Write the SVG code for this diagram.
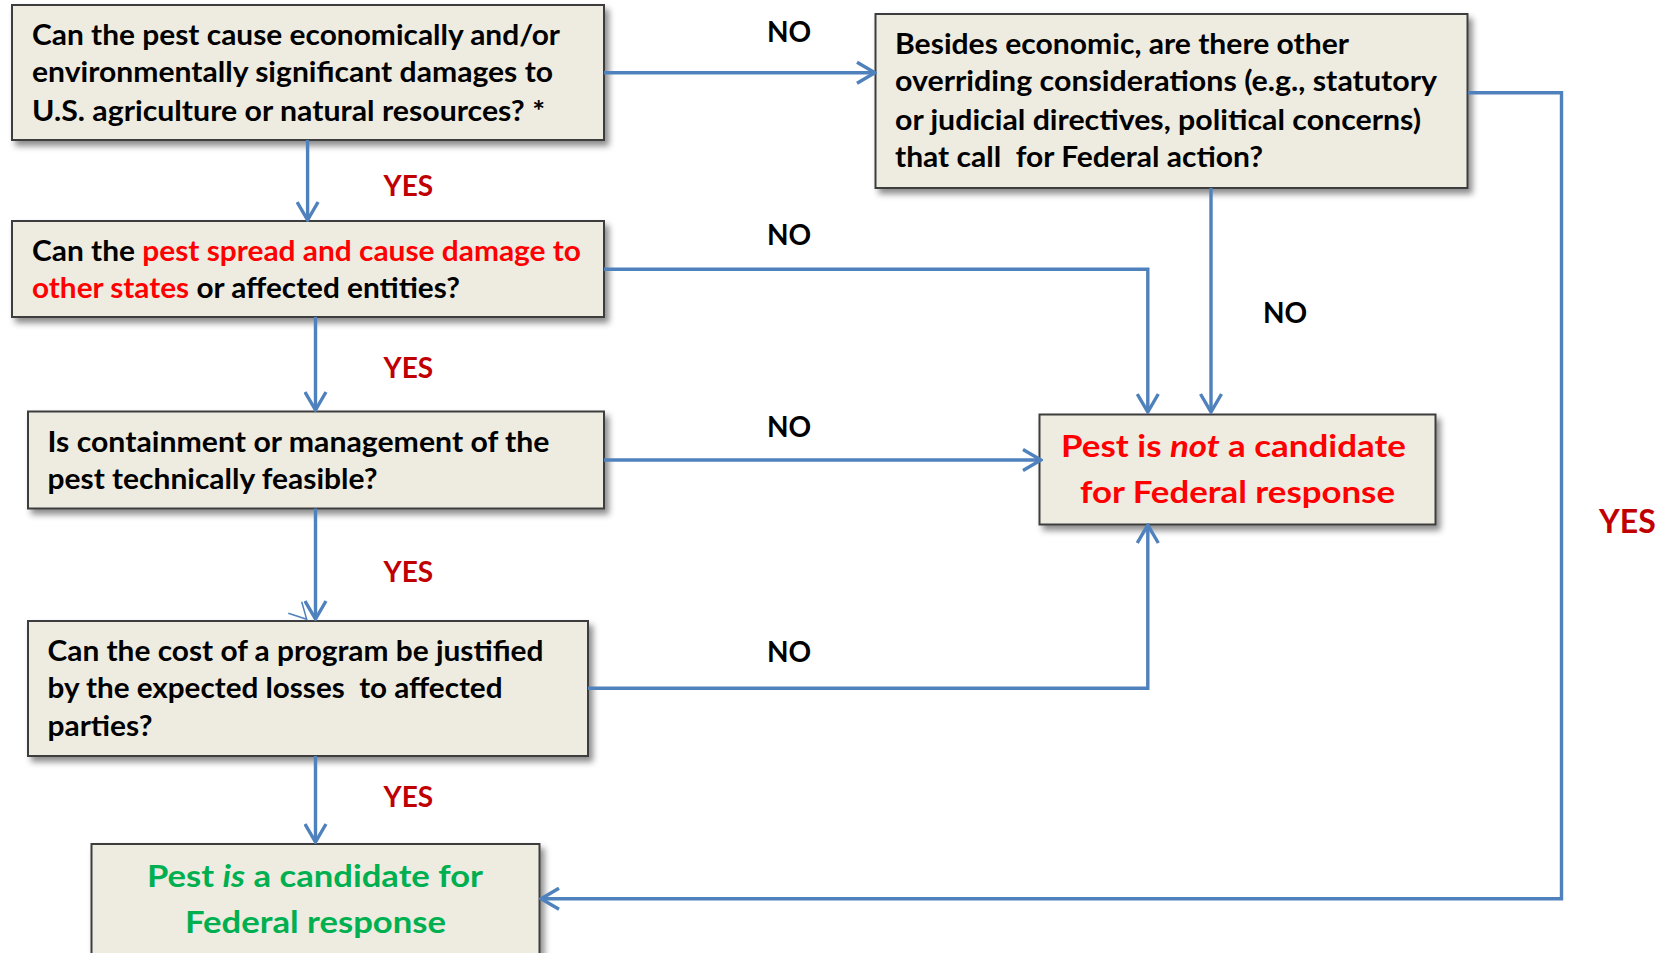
<svg xmlns="http://www.w3.org/2000/svg" width="1667" height="953" viewBox="0 0 1667 953">
<style>
  .box { fill: #EEECE1; stroke: #3c3c3c; stroke-width: 2; filter: url(#sh); }
  .t { font-family: Lato, "Liberation Sans", sans-serif; font-weight: bold; font-size: 28px; fill: #000; }
  .big { font-size: 31px; }
  .red { fill: #FF0000; }
  .green { fill: #00B050; }
  .yes { font-family: Lato, "Liberation Sans", sans-serif; font-weight: bold; font-size: 28px; fill: #C00000; }
  .no { font-family: Lato, "Liberation Sans", sans-serif; font-weight: bold; font-size: 28px; fill: #000; }
  .c { fill: none; stroke: #4F81BD; stroke-width: 3.4; }
  .i { font-style: italic; }
</style>
<defs>
  <filter id="sh" x="-10%" y="-10%" width="130%" height="140%">
    <feDropShadow dx="4" dy="5" stdDeviation="3" flood-color="#000" flood-opacity="0.45"/>
  </filter>
  <marker id="ar" viewBox="0 0 22 24" refX="20" refY="12" markerWidth="22" markerHeight="24" markerUnits="userSpaceOnUse" orient="auto">
    <path d="M2,1.5 L20,12 L2,22.5" fill="none" stroke="#4F81BD" stroke-width="3.4"/>
  </marker>
</defs>

<g id="q1">
  <rect class="box" x="12" y="5" width="592" height="135"/>
  <text class="t" x="32" y="45" textLength="528" lengthAdjust="spacingAndGlyphs">Can the pest cause economically and/or</text>
  <text class="t" x="32" y="82" textLength="521" lengthAdjust="spacingAndGlyphs">environmentally significant damages to</text>
  <text class="t" x="32" y="120.5" textLength="513" lengthAdjust="spacingAndGlyphs">U.S. agriculture or natural resources? *</text>
</g>

<g id="q2">
  <rect class="box" x="875.5" y="14" width="592" height="174"/>
  <text class="t" x="895" y="54" textLength="454" lengthAdjust="spacingAndGlyphs">Besides economic, are there other</text>
  <text class="t" x="895" y="91" textLength="542" lengthAdjust="spacingAndGlyphs">overriding considerations (e.g., statutory</text>
  <text class="t" x="895" y="129.5" textLength="526" lengthAdjust="spacingAndGlyphs">or judicial directives, political concerns)</text>
  <text class="t" x="895" y="167" textLength="368" lengthAdjust="spacingAndGlyphs" xml:space="preserve">that call  for Federal action?</text>
</g>

<g id="q3">
  <rect class="box" x="12" y="221" width="592" height="96"/>
  <text class="t" x="32" y="260.5" textLength="549" lengthAdjust="spacingAndGlyphs">Can the <tspan class="red">pest spread and cause damage to</tspan></text>
  <text class="t" x="32" y="297.5" textLength="428" lengthAdjust="spacingAndGlyphs"><tspan class="red">other states</tspan> or affected entities?</text>
</g>

<g id="q4">
  <rect class="box" x="28" y="411.5" width="576" height="97"/>
  <text class="t" x="47.5" y="451.5" textLength="502" lengthAdjust="spacingAndGlyphs">Is containment or management of the</text>
  <text class="t" x="47.5" y="488.5" textLength="330" lengthAdjust="spacingAndGlyphs">pest technically feasible?</text>
</g>

<g id="q5">
  <rect class="box" x="28" y="621" width="560" height="135"/>
  <text class="t" x="47.5" y="660.5" textLength="496" lengthAdjust="spacingAndGlyphs">Can the cost of a program be justified</text>
  <text class="t" x="47.5" y="698" textLength="455" lengthAdjust="spacingAndGlyphs" xml:space="preserve">by the expected losses  to affected</text>
  <text class="t" x="47.5" y="736" textLength="105" lengthAdjust="spacingAndGlyphs">parties?</text>
</g>

<g id="yesnode">
  <rect class="box" x="91.5" y="844" width="448" height="130"/>
  <text class="t big green" x="147" y="886.5" textLength="336" lengthAdjust="spacingAndGlyphs">Pest <tspan class="i">is</tspan> a candidate for</text>
  <text class="t big green" x="185" y="932.5" textLength="261" lengthAdjust="spacingAndGlyphs">Federal response</text>
</g>

<g id="nonode">
  <rect class="box" x="1039.5" y="414.5" width="396" height="110"/>
  <text class="t big red" x="1061" y="457" textLength="345" lengthAdjust="spacingAndGlyphs">Pest is <tspan class="i">not</tspan> a candidate</text>
  <text class="t big red" x="1080" y="502.5" textLength="315" lengthAdjust="spacingAndGlyphs">for Federal response</text>
</g>

<g id="connectors">
  <path class="c" d="M604,72.7 H875" marker-end="url(#ar)"/>
  <path class="c" d="M307.6,140 V220" marker-end="url(#ar)"/>
  <path class="c" d="M315.5,317 V410" marker-end="url(#ar)"/>
  <path class="c" d="M315.5,508.5 V619" marker-end="url(#ar)"/>
  <path class="c" d="M315.5,756 V842" marker-end="url(#ar)"/>
  <path class="c" d="M604,269.3 H1147.8 V412" marker-end="url(#ar)"/>
  <path class="c" d="M1211,188 V412" marker-end="url(#ar)"/>
  <path class="c" d="M604,460 H1041" marker-end="url(#ar)"/>
  <path class="c" d="M588,688.3 H1147.8 V525" marker-end="url(#ar)"/>
  <path class="c" d="M1468,92.7 H1561.5 V898.7 H541" marker-end="url(#ar)"/>
  <path d="M288.3,613.3 L306.7,619.3 L301.7,601.7" fill="none" stroke="#4F81BD" stroke-width="1.5"/>
</g>

<g id="labels">
  <text class="no" x="767" y="41.5">NO</text>
  <text class="no" x="767" y="245">NO</text>
  <text class="no" x="1263" y="323">NO</text>
  <text class="no" x="767" y="437">NO</text>
  <text class="no" x="767" y="662">NO</text>
  <text class="yes" x="383.5" y="195.5">YES</text>
  <text class="yes" x="383.5" y="378">YES</text>
  <text class="yes" x="383.5" y="582">YES</text>
  <text class="yes" x="383.5" y="807">YES</text>
  <text class="yes" x="1599" y="533" style="font-size:32px">YES</text>
</g>
</svg>
